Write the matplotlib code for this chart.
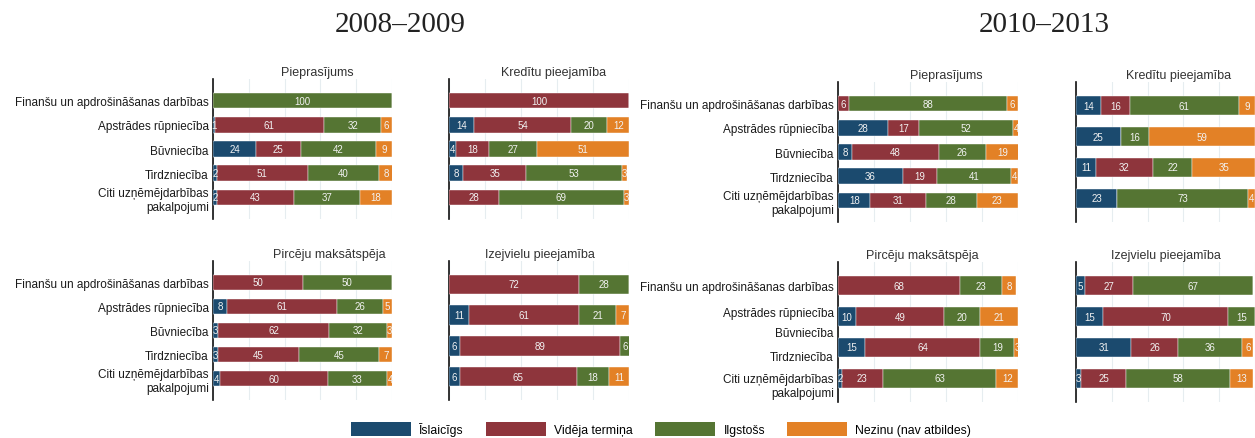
import matplotlib.pyplot as plt
from matplotlib.patches import Patch
import numpy as np

plt.rcParams['font.family'] = ['Liberation Sans', 'DejaVu Sans']

nozares = ["Finanšu un apdrošināšanas darbības", "Apstrādes rūpniecība", "Būvniecība",
           "Tirdzniecība", "Citi uzņēmējdarbības\npakalpojumi"]
serijas = ["Īslaicīgs", "Vidēja termiņa", "Ilgstošs", "Nezinu (nav atbildes)"]
krasas = ["#1b4a6e", "#8e353c", "#557533", "#e38126"]

# katrā rindā: Īslaicīgs, Vidēja termiņa, Ilgstošs, Nezinu
piepr_0809 = [[0, 0, 100, 0], [1, 61, 32, 6], [24, 25, 42, 9], [2, 51, 40, 8], [2, 43, 37, 18]]
kred_0809 = [[0, 100, 0, 0], [14, 54, 20, 12], [4, 18, 27, 51], [8, 35, 53, 3], [0, 28, 69, 3]]
pirc_0809 = [[0, 50, 50, 0], [8, 61, 26, 5], [3, 62, 32, 3], [3, 45, 45, 7], [4, 60, 33, 4]]
izej_0809 = [[0, 72, 28, 0], [11, 61, 21, 7], [6, 89, 6, 0], [6, 65, 18, 11]]

piepr_1013 = [[0, 6, 88, 6], [28, 17, 52, 4], [8, 48, 26, 19], [36, 19, 41, 4], [18, 31, 28, 23]]
kred_1013 = [[14, 16, 61, 9], [25, 0, 16, 59], [11, 32, 22, 35], [23, 0, 73, 4]]
pirc_1013 = [[0, 68, 23, 8], [10, 49, 20, 21], [15, 64, 19, 3], [2, 23, 63, 12]]
izej_1013 = [[5, 27, 67, 0], [15, 70, 15, 0], [31, 26, 36, 6], [3, 25, 58, 13]]

W, H = 1255, 439
fig = plt.figure(figsize=(W / 100, H / 100), dpi=100)

# (dati, virsraksts, x0, x1, y0, y1 pikseļos, virsraksta x, ar nozaru nosaukumiem, nosaukumu vietas)
paneli = [
    (piepr_0809, "Pieprasījums", 213, 392, 80, 220, 0.58, True, None),
    (kred_0809, "Kredītu pieejamība", 449, 629, 80, 220, 0.58, False, None),
    (pirc_0809, "Pircēju maksātspēja", 213, 392, 262, 401, 0.65, True, None),
    (izej_0809, "Izejvielu pieejamība", 449, 629, 262, 401, 0.505, False, None),
    (piepr_1013, "Pieprasījums", 838, 1018, 83, 223, 0.60, True, None),
    (kred_1013, "Kredītu pieejamība", 1076, 1255, 83, 223, 0.575, False, None),
    (pirc_1013, "Pircēju maksātspēja", 838, 1018, 263, 403, 0.467, True, [0, 0.83, 1.5, 2.25, 3.16]),
    (izej_1013, "Izejvielu pieejamība", 1076, 1255, 263, 403, 0.5, False, None),
]

for dati, virsr, x0, x1, y0, y1, tx, ar_nos, nos_vietas in paneli:
    ax = fig.add_axes([x0 / W, 1 - y1 / H, (x1 - x0) / W, (y1 - y0) / H])
    dati = np.array(dati)
    n = len(dati)
    y = np.arange(n)
    left = np.zeros(n)
    for j in range(4):
        ax.barh(y, dati[:, j], left=left, height=0.64, color=krasas[j],
                edgecolor="white", linewidth=0.3, zorder=3)
        for i in range(n):
            if dati[i, j] > 0:
                ax.text(left[i] + dati[i, j] / 2, y[i], str(dati[i, j]), ha="center",
                        va="center", color="#f2f2f2", fontsize=7, zorder=4)
        left += dati[:, j]
    pad = 0.89 if n == 5 else 0.76
    ax.set_ylim(n - 1 + pad, -pad)
    ax.set_xlim(0, 100)
    ax.set_xticks(np.arange(0, 101, 20))
    ax.grid(axis="x", color="#e6edf0", linewidth=0.8, zorder=0)
    ax.tick_params(length=0, labelbottom=False)
    for s in ["top", "right", "bottom"]:
        ax.spines[s].set_visible(False)
    ax.spines["left"].set_color("#111111")
    ax.spines["left"].set_linewidth(1.2)
    if ar_nos:
        ax.set_yticks(nos_vietas if nos_vietas else y)
        ax.set_yticklabels(nozares, fontsize=8.5, color="#1a1a1a", multialignment="right")
        ax.tick_params(axis="y", pad=3)
    else:
        ax.set_yticks([])
    ax.text(tx, 1.05, virsr, transform=ax.transAxes, ha="center", va="center",
            fontsize=9, color="#333333")

fig.text(400 / W, 1 - 25 / H, "2008–2009", ha="center", va="center",
         fontsize=21, family="Liberation Serif", color="#222222")
fig.text(1044 / W, 1 - 25 / H, "2010–2013", ha="center", va="center",
         fontsize=21, family="Liberation Serif", color="#222222")

roki = [Patch(facecolor=c, edgecolor="none") for c in krasas]
fig.legend(roki, serijas, loc="center", bbox_to_anchor=(661 / W, 1 - 430 / H),
           ncol=4, frameon=False, fontsize=8.8, handlelength=4.9, handleheight=1.35,
           handletextpad=0.7, columnspacing=1.8, borderaxespad=0, borderpad=0)

fig.savefig("out.png", dpi=100)
